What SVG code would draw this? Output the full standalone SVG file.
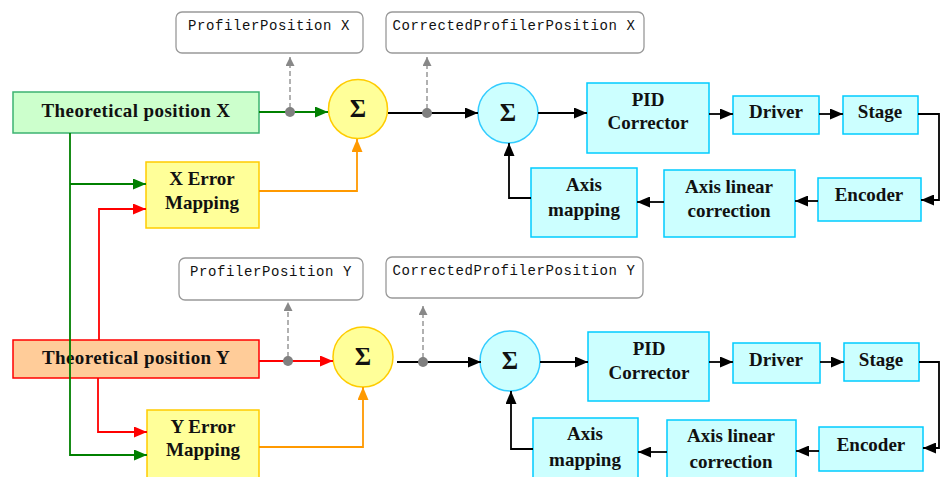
<svg xmlns="http://www.w3.org/2000/svg" width="944" height="477" viewBox="0 0 944 477">
<defs>
<style>
.lbl{font-family:"Liberation Serif","Times New Roman",serif;font-weight:bold;font-size:19px;fill:#111;text-anchor:middle}
.sig{font-family:"Liberation Serif","Times New Roman",serif;font-weight:bold;font-size:25px;fill:#111;text-anchor:middle}
.mono{font-family:"Liberation Mono","Courier New",monospace;font-size:14px;fill:#111;text-anchor:middle;letter-spacing:0.6px}
.note{fill:#fff;stroke:#999;stroke-width:1.3}
.cyan{fill:#ccffff;stroke:#00ccff;stroke-width:1.5}
.yel{fill:#ffff99;stroke:#ffcc00;stroke-width:1.5}
.c{fill:none;stroke-width:1.8}
.k{stroke:#000;marker-end:url(#ak)}
.g{stroke:#008000;marker-end:url(#ag)}
.r{stroke:#ff0000;marker-end:url(#ar)}
.o{stroke:#ff9900;marker-end:url(#ao)}
.d{stroke:#888;stroke-width:1.3;stroke-dasharray:5,3;marker-end:url(#ad)}
.dot{fill:#808080}
</style>
<marker id="ak" markerUnits="userSpaceOnUse" viewBox="0 0 13 11" refX="13" refY="5.5" markerWidth="13" markerHeight="11" orient="auto"><path d="M0,0 L13,5.5 L0,11 z" fill="#000"/></marker>
<marker id="ag" markerUnits="userSpaceOnUse" viewBox="0 0 13 11" refX="13" refY="5.5" markerWidth="13" markerHeight="11" orient="auto"><path d="M0,0 L13,5.5 L0,11 z" fill="#008000"/></marker>
<marker id="ar" markerUnits="userSpaceOnUse" viewBox="0 0 13 11" refX="13" refY="5.5" markerWidth="13" markerHeight="11" orient="auto"><path d="M0,0 L13,5.5 L0,11 z" fill="#ff0000"/></marker>
<marker id="ao" markerUnits="userSpaceOnUse" viewBox="0 0 13 11" refX="13" refY="5.5" markerWidth="13" markerHeight="11" orient="auto"><path d="M0,0 L13,5.5 L0,11 z" fill="#ff9900"/></marker>
<marker id="ad" markerUnits="userSpaceOnUse" viewBox="0 0 9 9" refX="9" refY="4.5" markerWidth="9" markerHeight="9" orient="auto"><path d="M0,0 L9,4.5 L0,9 z" fill="#888"/></marker>
</defs>
<rect width="944" height="477" fill="#fff"/>

<!-- X section nodes -->
<g id="profX"><rect class="note" x="176" y="12" width="187" height="41" rx="6"/><text class="mono" x="269" y="30">ProfilerPosition X</text></g>
<g id="corrX"><rect class="note" x="386" y="12" width="258" height="41" rx="6"/><text class="mono" x="514" y="30">CorrectedProfilerPosition X</text></g>
<g id="theoX"><rect x="13" y="92" width="246" height="41" fill="#ccffcc" stroke="#3cb371" stroke-width="1.5"/><text class="lbl" x="136" y="117" letter-spacing="0.4">Theoretical position X</text></g>
<g id="errX"><rect class="yel" x="146" y="162" width="113" height="66"/><text class="lbl" x="202" y="185">X Error</text><text class="lbl" x="202" y="209">Mapping</text></g>
<g id="sumX1"><circle class="yel" cx="358" cy="109" r="29.5"/><text class="sig" x="358" y="117">Σ</text></g>
<g id="sumX2"><circle cx="508" cy="113" r="30" fill="#ccffff" stroke="#33ccff" stroke-width="1.5"/><text class="sig" x="508" y="121">Σ</text></g>
<g id="pidX"><rect class="cyan" x="587" y="83" width="122" height="70"/><text class="lbl" x="648" y="106">PID</text><text class="lbl" x="648" y="129">Corrector</text></g>
<g id="drvX"><rect class="cyan" x="733" y="96" width="86" height="38"/><text class="lbl" x="776" y="118">Driver</text></g>
<g id="stgX"><rect class="cyan" x="843" y="96" width="75" height="38"/><text class="lbl" x="880" y="118">Stage</text></g>
<g id="encX"><rect class="cyan" x="818" y="178" width="103" height="43"/><text class="lbl" x="869" y="201">Encoder</text></g>
<g id="linX"><rect class="cyan" x="664" y="170" width="131" height="67"/><text class="lbl" x="729" y="193">Axis linear</text><text class="lbl" x="729" y="217">correction</text></g>
<g id="mapX"><rect class="cyan" x="531" y="168" width="106" height="69"/><text class="lbl" x="584" y="191">Axis</text><text class="lbl" x="584" y="216">mapping</text></g>

<!-- Y section nodes -->
<g id="profY"><rect class="note" x="179" y="258" width="184" height="42" rx="6"/><text class="mono" x="271" y="276">ProfilerPosition Y</text></g>
<g id="corrY"><rect class="note" x="386" y="257" width="257" height="41" rx="6"/><text class="mono" x="514" y="275">CorrectedProfilerPosition Y</text></g>
<g id="theoY"><rect x="13" y="340" width="246" height="38" fill="#ffcc99" stroke="#ff0000" stroke-width="1.5"/><text class="lbl" x="136" y="364" letter-spacing="0.4">Theoretical position Y</text></g>
<g id="errY"><rect class="yel" x="147" y="410" width="112" height="75"/><text class="lbl" x="203" y="433">Y Error</text><text class="lbl" x="203" y="456">Mapping</text></g>
<g id="sumY1"><circle class="yel" cx="363" cy="357" r="30"/><text class="sig" x="363" y="365">Σ</text></g>
<g id="sumY2"><circle cx="510" cy="361" r="30" fill="#ccffff" stroke="#33ccff" stroke-width="1.5"/><text class="sig" x="510" y="369">Σ</text></g>
<g id="pidY"><rect class="cyan" x="588" y="332" width="121" height="69"/><text class="lbl" x="649" y="355">PID</text><text class="lbl" x="649" y="379">Corrector</text></g>
<g id="drvY"><rect class="cyan" x="733" y="343" width="87" height="40"/><text class="lbl" x="776" y="366">Driver</text></g>
<g id="stgY"><rect class="cyan" x="844" y="343" width="75" height="38"/><text class="lbl" x="881" y="366">Stage</text></g>
<g id="encY"><rect class="cyan" x="819" y="427" width="104" height="44"/><text class="lbl" x="871" y="451">Encoder</text></g>
<g id="linY"><rect class="cyan" x="667" y="420" width="129" height="65"/><text class="lbl" x="731" y="442">Axis linear</text><text class="lbl" x="731" y="468">correction</text></g>
<g id="mapY"><rect class="cyan" x="533" y="418" width="105" height="67"/><text class="lbl" x="585" y="440">Axis</text><text class="lbl" x="585" y="466">mapping</text></g>

<g id="connectors">
<!-- X -->
<path class="c g" d="M259,112 H328"/>
<path class="c d" d="M290,108 V57"/>
<path class="c k" d="M388,113 H478"/>
<path class="c d" d="M427,109 V57"/>
<path class="c k" d="M538,113 H587"/>
<path class="c k" d="M709,114 H733"/>
<path class="c k" d="M819,114 H843"/>
<path class="c k" d="M918,114 H939 V200 H921"/>
<path class="c k" d="M818,201 H795"/>
<path class="c k" d="M664,202 H637"/>
<path class="c k" d="M531,198 H509 V143"/>
<path class="c o" d="M259,191 H357 V139"/>
<path class="c g" d="M70,184 H146"/>
<path class="c g" d="M70,133 V455 H147"/>
<path class="c r" d="M99,340 V209 H146"/>
<circle class="dot" cx="290" cy="112" r="5"/>
<circle class="dot" cx="427" cy="113" r="5"/>
<!-- Y -->
<path class="c r" d="M259,361 H333"/>
<path class="c d" d="M288,357 V302"/>
<path class="c k" d="M397,362 H481"/>
<path class="c d" d="M423,358 V306"/>
<path class="c k" d="M540,362 H588"/>
<path class="c k" d="M709,362 H733"/>
<path class="c k" d="M820,362 H844"/>
<path class="c k" d="M919,362 H939 V448 H923"/>
<path class="c k" d="M819,451 H796"/>
<path class="c k" d="M667,452 H638"/>
<path class="c k" d="M533,449 H511 V391"/>
<path class="c o" d="M259,447 H363 V387"/>
<path class="c r" d="M98,378 V432 H147"/>
<circle class="dot" cx="288" cy="361" r="5"/>
<circle class="dot" cx="423" cy="362" r="5"/>
</g>
</svg>
